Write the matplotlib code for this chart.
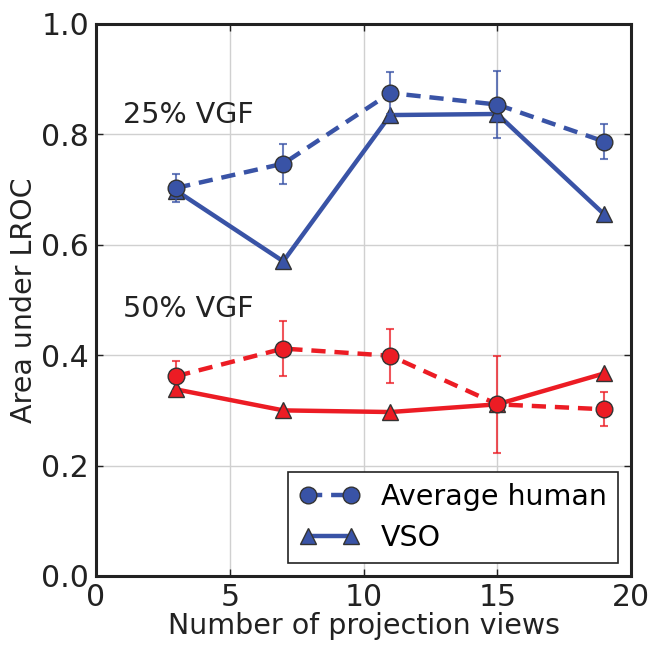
import matplotlib
matplotlib.use('Agg')
import matplotlib.pyplot as plt

# data
views = [3, 7, 11, 15, 19]

# 25% VGF (blue)
human_25 = [0.703, 0.747, 0.875, 0.854, 0.787]
human_25_err = [0.025, 0.036, 0.038, 0.060, 0.031]
vso_25 = [0.698, 0.570, 0.835, 0.837, 0.655]

# 50% VGF (red)
human_50 = [0.362, 0.412, 0.399, 0.311, 0.302]
human_50_err = [0.027, 0.050, 0.049, 0.088, 0.031]
vso_50 = [0.338, 0.300, 0.297, 0.311, 0.367]

blue = '#3953a6'
red = '#ec1c24'
edge = '#333333'

plt.rcParams['font.family'] = ['DejaVu Sans']

fig = plt.figure(figsize=(6.55, 6.45), dpi=100)
ax = fig.add_axes([0.1466, 0.107, 0.8168, 0.8558])

dash = (0, (3.2, 2.0))

for col, hum, err, vso in [(blue, human_25, human_25_err, vso_25),
                           (red, human_50, human_50_err, vso_50)]:
    ax.plot(views, vso, '-', color=col, lw=3.2, marker='^', ms=12,
            mfc=col, mec=edge, mew=1, zorder=3,
            label='VSO' if col == blue else None)
    ax.errorbar(views, hum, yerr=err, color=col, ls='none',
                elinewidth=1.5, capsize=3, capthick=1.5, alpha=0.75,
                zorder=4)
    ax.plot(views, hum, ls=dash, color=col, lw=3.2, marker='o', ms=12,
            mfc=col, mec=edge, mew=1, zorder=5,
            label='Average human' if col == blue else None)

ax.text(1, 0.82, '25% VGF', fontsize=20.5, color='#222222')
ax.text(1, 0.47, '50% VGF', fontsize=20.5, color='#222222')

ax.set_xlim(0, 20)
ax.set_ylim(0, 1.0)
ax.set_xticks([0, 5, 10, 15, 20])
ax.set_yticks([0.0, 0.2, 0.4, 0.6, 0.8, 1.0])
ax.set_yticklabels(['0.0', '0.2', '0.4', '0.6', '0.8', '1.0'])
ax.grid(True, color='#d0d0d0', lw=1)
ax.set_axisbelow(True)
ax.tick_params(direction='in', length=5, width=1, top=True, right=True,
               labelsize=21.5, pad=5, colors='#222222')
for s in ax.spines.values():
    s.set_linewidth(2.2)
    s.set_color('#222222')

ax.set_xlabel('Number of projection views', fontsize=20.5, color='#222222',
              labelpad=0)
ax.set_ylabel('Area under LROC', fontsize=20.5, color='#222222', labelpad=2)

handles, labels = ax.get_legend_handles_labels()
order = [labels.index('Average human'), labels.index('VSO')]
leg = ax.legend([handles[i] for i in order], [labels[i] for i in order],
                loc='lower right', fontsize=20.5, numpoints=2,
                handlelength=2.1, handletextpad=0.75, fancybox=False,
                framealpha=1, edgecolor='#222222', borderaxespad=0.45,
                labelspacing=0.45, borderpad=0.4)
leg.get_frame().set_linewidth(1.2)

fig.savefig('out.png', dpi=100)
